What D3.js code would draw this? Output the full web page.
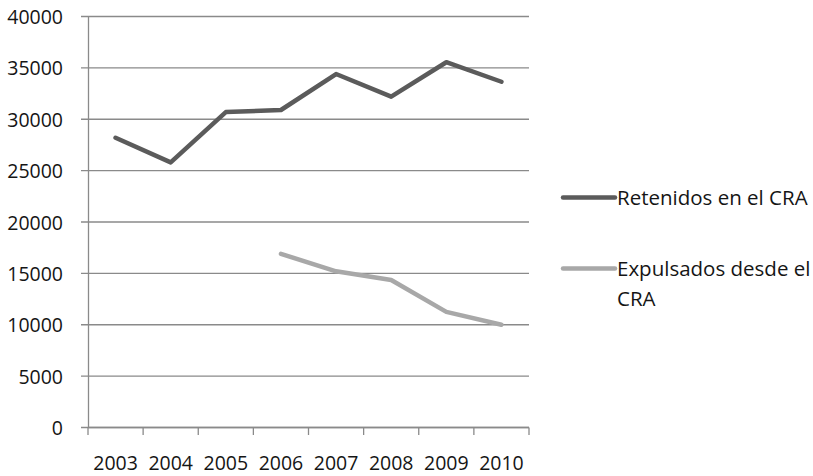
<!DOCTYPE html>
<html>
<head>
<meta charset="utf-8">
<script src="https://cdn.jsdelivr.net/npm/d3@7"></script>
<style>
  html, body { margin: 0; padding: 0; background: #fff; }
  svg { display: block; }
  text { font-family: "Open Sans", sans-serif; fill: #151515; }
</style>
</head>
<body>
<svg id="chart" width="813" height="476"></svg>
<script>
// Years on the category axis
const years = ["2003", "2004", "2005", "2006", "2007", "2008", "2009", "2010"];
// Series values (null = no data for that year)
const retenidos = [28200, 25800, 30700, 30900, 34400, 32200, 35550, 33650];
const expulsados = [null, null, null, 16900, 15200, 14350, 11250, 10000];
// Value-axis ticks
const yTicks = [0, 5000, 10000, 15000, 20000, 25000, 30000, 35000, 40000];
// Legend entries
const seriesNames = ["Retenidos en el CRA", "Expulsados desde el CRA"];
const seriesLabelLines = [["Retenidos en el CRA"], ["Expulsados desde el", "CRA"]];
const seriesColors = ["#5b5b5b", "#a8a8a8"];

const svg = d3.select("#chart");
const plotLeft = 88, plotRight = 529, plotTop = 16.5, plotBottom = 427.5;
const fontSize = 19.5;
const legendFontSize = 20.5;
const textColor = "#151515";
const gridColor = "#8a8a8a";

const x = d3.scaleBand().domain(years).range([plotLeft, plotRight]).padding(0);
const y = d3.scaleLinear().domain([0, 40000]).range([plotBottom, plotTop]);

// Horizontal gridlines, extending a little left of the value axis as tick stubs
svg.append("g").selectAll("line")
  .data(yTicks)
  .join("line")
  .attr("x1", plotLeft - 7).attr("x2", plotRight)
  .attr("y1", d => y(d)).attr("y2", d => y(d))
  .attr("stroke", gridColor).attr("stroke-width", 1.3);

// Value axis line and labels
const yAxis = svg.append("g")
  .attr("transform", `translate(${plotLeft},0)`)
  .call(d3.axisLeft(y).tickValues(yTicks).tickSize(0).tickPadding(25).tickFormat(d3.format("d")));
yAxis.select(".domain").attr("stroke", gridColor).attr("stroke-width", 1.3);
yAxis.selectAll("text")
  .style("font-family", "'Open Sans', sans-serif")
  .style("font-size", fontSize + "px")
  .attr("fill", textColor)
  .attr("dy", "0.36em");

// Category axis: tick marks sit between categories, labels at category centres
const xAxis = svg.append("g")
  .attr("transform", `translate(0,${plotBottom})`)
  .call(d3.axisBottom(x).tickSize(0).tickPadding(0));
xAxis.select(".domain").remove();
xAxis.selectAll("text")
  .style("font-family", "'Open Sans', sans-serif")
  .style("font-size", fontSize + "px")
  .attr("fill", textColor)
  .attr("y", 35.5)
  .attr("dy", "0.36em");

const boundaries = years.map(d => x(d)).concat([x(years[years.length - 1]) + x.bandwidth()]);
svg.append("g").selectAll("line")
  .data(boundaries)
  .join("line")
  .attr("x1", d => d).attr("x2", d => d)
  .attr("y1", plotBottom).attr("y2", plotBottom + 7.5)
  .attr("stroke", gridColor).attr("stroke-width", 1.3);
svg.append("line")
  .attr("x1", plotLeft).attr("x2", plotRight)
  .attr("y1", plotBottom).attr("y2", plotBottom)
  .attr("stroke", gridColor).attr("stroke-width", 1.3);

// Series lines
const line = d3.line()
  .defined(d => d.v !== null)
  .x(d => x(d.year) + x.bandwidth() / 2)
  .y(d => y(d.v));

[retenidos, expulsados].forEach((vals, i) => {
  svg.append("path")
    .datum(years.map((yr, j) => ({ year: yr, v: vals[j] })))
    .attr("d", line)
    .attr("fill", "none")
    .attr("stroke", seriesColors[i])
    .attr("stroke-width", 4.5)
    .attr("stroke-linejoin", "round")
    .attr("stroke-linecap", "round");
});

// Legend
const legendY = [197.5, 268.5];
seriesNames.forEach((name, i) => {
  const g = svg.append("g").attr("class", "legend-item");
  g.append("line")
    .attr("x1", 563).attr("x2", 615)
    .attr("y1", legendY[i]).attr("y2", legendY[i])
    .attr("stroke", seriesColors[i])
    .attr("stroke-width", 4.5)
    .attr("stroke-linecap", "round");
  const t = g.append("text")
    .attr("x", 617)
    .attr("y", legendY[i])
    .style("font-size", legendFontSize + "px");
  seriesLabelLines[i].forEach((ln, k) => {
    t.append("tspan")
      .attr("x", 617)
      .attr("y", legendY[i] + k * 30)
      .attr("dy", "0.36em")
      .text(ln);
  });
});
</script>
</body>
</html>
